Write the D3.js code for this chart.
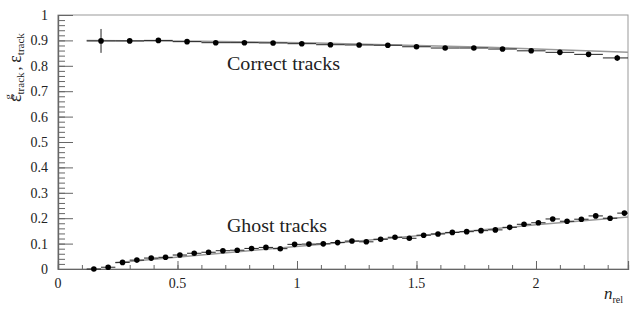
<!DOCTYPE html>
<html>
<head>
<meta charset="utf-8">
<script src="https://cdn.jsdelivr.net/npm/d3@7"></script>
<style>
  body { margin: 0; background: #fff; }
  svg text { font-family: "Liberation Serif", "DejaVu Serif", serif; fill: #222; }
</style>
</head>
<body>
<svg id="chart" width="630" height="312"></svg>
<script>
// correct tracks, bins of 0.12
var correct_x = [0.18, 0.30, 0.42, 0.54, 0.66, 0.78, 0.90, 1.02, 1.14, 1.26, 1.38, 1.50, 1.62, 1.74, 1.86, 1.98, 2.10, 2.22, 2.34]
var correct_y = [0.898, 0.898, 0.900, 0.895, 0.891, 0.891, 0.890, 0.887, 0.883, 0.882, 0.881, 0.875, 0.870, 0.870, 0.866, 0.859, 0.853, 0.845, 0.831]
var correct_ey = [0.047, 0.004, 0.004, 0.004, 0.004, 0.004, 0.004, 0.004, 0.004, 0.004, 0.004, 0.004, 0.004, 0.004, 0.005, 0.005, 0.006, 0.008, 0.012]
var correct_ex = 0.06

// ghost tracks, bins of 0.06
var ghost_x = [0.15, 0.21, 0.27, 0.33, 0.39, 0.45, 0.51, 0.57, 0.63, 0.69, 0.75, 0.81, 0.87, 0.93, 0.99,
  1.05, 1.11, 1.17, 1.23, 1.29, 1.35, 1.41, 1.47, 1.53, 1.59, 1.65, 1.71, 1.77, 1.83, 1.89, 1.95,
  2.01, 2.07, 2.13, 2.19, 2.25, 2.31, 2.37]
var ghost_y = [0.000, 0.007, 0.026, 0.035, 0.043, 0.046, 0.055, 0.062, 0.066, 0.072, 0.074, 0.081, 0.085, 0.080, 0.097,
  0.098, 0.099, 0.104, 0.110, 0.107, 0.117, 0.125, 0.121, 0.133, 0.138, 0.144, 0.147, 0.151, 0.154, 0.164, 0.176,
  0.182, 0.197, 0.188, 0.196, 0.209, 0.200, 0.220]
var ghost_ex = 0.03

// fitted curves
var correct_fit_x = [0.12, 0.6, 1.2, 1.8, 2.385]
var correct_fit_y = [0.900, 0.897, 0.887, 0.873, 0.853]
var ghost_fit_x = [0.24, 0.8, 1.4, 2.0, 2.385]
var ghost_fit_y = [0.025, 0.072, 0.122, 0.174, 0.205]

var x_ticks = [0, 0.5, 1, 1.5, 2]
var y_ticks = [0, 0.1, 0.2, 0.3, 0.4, 0.5, 0.6, 0.7, 0.8, 0.9, 1]

var svg = d3.select("#chart")
var m_left = 58, m_right = 628, m_top = 15, m_bottom = 269

var x = d3.scaleLinear().domain([0, 2.385]).range([m_left, m_right])
var y = d3.scaleLinear().domain([0, 1]).range([m_bottom, m_top])

// frame
svg.append("rect")
  .attr("x", m_left).attr("y", m_top)
  .attr("width", m_right - m_left).attr("height", m_bottom - m_top)
  .attr("fill", "none").attr("stroke", "#999").attr("stroke-width", 1)

// y axis
var yAxis = d3.axisRight(y).tickValues(y_ticks).tickSize(15).tickFormat("")
svg.append("g").attr("transform", "translate(" + m_left + ",0)").call(yAxis)
var yMinor = d3.axisRight(y).tickValues(d3.range(0, 1.001, 0.02)).tickSize(7).tickFormat("")
svg.append("g").attr("transform", "translate(" + m_left + ",0)").call(yMinor)

// x axis
var xAxis = d3.axisTop(x).tickValues(x_ticks).tickSize(8).tickFormat("")
svg.append("g").attr("transform", "translate(0," + m_bottom + ")").call(xAxis)
var xMinor = d3.axisTop(x).tickValues(d3.range(0, 2.38, 0.1)).tickSize(4).tickFormat("")
svg.append("g").attr("transform", "translate(0," + m_bottom + ")").call(xMinor)

svg.selectAll(".domain").attr("stroke", "#666").attr("stroke-width", 1.2)
svg.selectAll(".tick line").attr("stroke", "#666")

// tick labels
svg.selectAll(".ylab").data(y_ticks).enter().append("text")
  .attr("x", 48).attr("y", function(d){ return y(d) + 5 })
  .attr("text-anchor", "end").attr("font-size", 14)
  .text(function(d){ return d3.format("")(d) })
svg.selectAll(".xlab").data(x_ticks).enter().append("text")
  .attr("x", function(d){ return x(d) }).attr("y", 288)
  .attr("text-anchor", "middle").attr("font-size", 14)
  .text(function(d){ return d3.format("")(d) })

// axis titles
var xt = svg.append("text").attr("x", 604).attr("y", 299)
xt.append("tspan").attr("font-style", "italic").attr("font-size", 17).text("n")
xt.append("tspan").attr("font-size", 10).attr("dy", 4).text("rel")

var yt = svg.append("text").attr("transform", "translate(21,102) rotate(-90)")
yt.append("tspan").attr("font-size", 18).text("ε")
yt.append("tspan").attr("font-size", 11).attr("dy", 3).text("track")
yt.append("tspan").attr("font-size", 11).attr("dx", -27).attr("dy", -12).text("g")
yt.append("tspan").attr("font-size", 15).attr("dx", 20).attr("dy", 9).text(" ,  ")
yt.append("tspan").attr("font-size", 18).attr("dy", 0).text("ε")
yt.append("tspan").attr("font-size", 11).attr("dy", 3).text("track")

// fit lines
var fit = d3.line().curve(d3.curveNatural)
  .x(function(d){ return x(d[0]) }).y(function(d){ return y(d[1]) })
svg.append("path").datum(d3.zip(correct_fit_x, correct_fit_y))
  .attr("d", fit).attr("fill", "none").attr("stroke", "#999").attr("stroke-width", 1.5)
svg.append("path").datum(d3.zip(ghost_fit_x, ghost_fit_y))
  .attr("d", fit).attr("fill", "none").attr("stroke", "#999").attr("stroke-width", 1.5)

// data points with error bars
var draw_series = function(xs, ys, ex, eys){
  var g = svg.append("g")
  var pts = xs.map(function(v, i){ return { x: v, y: ys[i], ey: eys ? eys[i] : 0.003 } })
  g.selectAll(".ex").data(pts).enter().append("line")
    .attr("x1", function(d){ return x(d.x - ex) }).attr("x2", function(d){ return x(Math.min(d.x + ex, 2.385)) })
    .attr("y1", function(d){ return y(d.y) }).attr("y2", function(d){ return y(d.y) })
    .attr("stroke", "#222").attr("stroke-width", 1)
  g.selectAll(".ey").data(pts).enter().append("line")
    .attr("x1", function(d){ return x(d.x) }).attr("x2", function(d){ return x(d.x) })
    .attr("y1", function(d){ return y(Math.max(d.y - d.ey, 0)) }).attr("y2", function(d){ return y(d.y + d.ey) })
    .attr("stroke", "#222").attr("stroke-width", 1)
  g.selectAll("circle").data(pts).enter().append("circle")
    .attr("cx", function(d){ return x(d.x) }).attr("cy", function(d){ return y(d.y) })
    .attr("r", 2.8).attr("fill", "#000")
}
draw_series(correct_x, correct_y, correct_ex, correct_ey)
draw_series(ghost_x, ghost_y, ghost_ex, null)

// labels
svg.append("text").attr("x", 227).attr("y", 70).attr("font-size", 18)
  .attr("textLength", 113).attr("lengthAdjust", "spacingAndGlyphs").text("Correct tracks")
svg.append("text").attr("x", 227).attr("y", 232).attr("font-size", 18)
  .attr("textLength", 100).attr("lengthAdjust", "spacingAndGlyphs").text("Ghost tracks")
</script>
</body>
</html>
